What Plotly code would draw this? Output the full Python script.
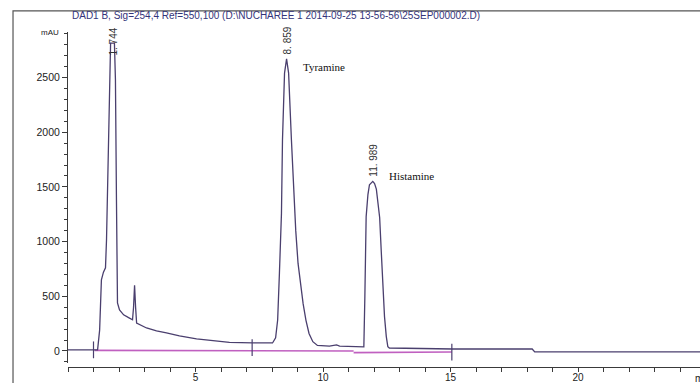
import plotly.graph_objects as go

# Chromatogram trace (time in min, absorbance in mAU)
time_min = [0, 1.04, 1.16, 1.24, 1.31, 1.39, 1.47, 1.51, 1.55, 1.59, 1.63, 1.67, 1.82, 1.86,
            1.90, 1.92, 1.94, 2.02, 2.18, 2.41, 2.53, 2.57, 2.61, 2.65, 2.69, 3.08, 3.47,
            3.86, 4.37, 5.04, 5.67, 6.33, 7.24, 8.02, 8.14, 8.22, 8.29, 8.37, 8.41, 8.49,
            8.57, 8.65, 8.76, 8.84, 8.93, 9.02, 9.12, 9.22, 9.33, 9.45, 9.6, 9.78, 10.25,
            10.53, 10.65, 11.24, 11.6, 11.64, 11.69, 11.76, 11.82, 11.95, 12.02, 12.09,
            12.15, 12.22, 12.28, 12.35, 12.41, 12.48, 12.54, 12.6, 13.27, 15.08, 18.2,
            18.3, 24.8]
signal_mau = [10, 10, 10, 190, 650, 720, 760, 1015, 1470, 2110, 2480, 2815, 2815, 2480,
              1380, 560, 440, 375, 330, 300, 285, 400, 600, 400, 255, 210, 183,
              165, 137, 110, 91, 78, 73, 73, 120, 283, 713, 1260, 1930, 2540,
              2670, 2540, 1930, 1520, 1100, 800, 600, 430, 280, 160, 85, 50, 45,
              55, 45, 37, 37, 500, 1228, 1430, 1520, 1550, 1530, 1480, 1370,
              1220, 923, 558, 314, 131, 39, 27, 23, 18, 18, -9, -9]

# Integration baseline segments
base_time = [1.04, 11.2, None, 11.2, 15.05]
base_mau = [5, 0, None, -15, -10]

# Baseline event marks
event_time = [1.0, 7.22, 15.05]
event_mau = [10, 30, -10]

# Peak retention-time labels and compound names
peak_time = [1.744, 8.57, 11.95]
peak_mau = [2815, 2670, 1550]
peak_text = ["1. 744", "8. 859", "11. 989"]
compound_names = ["Tyramine", "Histamine"]
compound_time = [8.57, 11.95]
compound_mau = [2670, 1550]

y_ticks = [0, 500, 1000, 1500, 2000, 2500]
x_ticks = [5, 10, 15, 20]

TRACE = "#4a3f6e"
BASE = "#c060c0"
AX = "#3a3a3a"

fig = go.Figure()
fig.add_trace(go.Scatter(x=base_time, y=base_mau, mode="lines",
                         line=dict(color=BASE, width=1.6), connectgaps=False,
                         hoverinfo="skip", showlegend=False))
fig.add_trace(go.Scatter(x=time_min, y=signal_mau, mode="lines",
                         line=dict(color=TRACE, width=1.3), showlegend=False))
fig.add_trace(go.Scatter(x=event_time, y=event_mau, mode="markers",
                         marker=dict(symbol="line-ns", size=12,
                                     line=dict(color=TRACE, width=1.2)),
                         showlegend=False))

annotations = []
shifts = [-14, 2, 3]
for t, v, s, sh in zip(peak_time, peak_mau, peak_text, shifts):
    annotations.append(dict(x=t, y=v, xref="x", yref="y", text=s, showarrow=False,
                            textangle=-90, yanchor="bottom", xanchor="center",
                            yshift=sh, xshift=1,
                            font=dict(family="Liberation Sans", size=10, color="#333")))
name_shift = [(14, -8), (14, 5)]
for t, v, s, (xs, ys) in zip(compound_time, compound_mau, compound_names, name_shift):
    annotations.append(dict(x=t, y=v, xref="x", yref="y", text=s, showarrow=False,
                            xanchor="left", yanchor="middle", xshift=xs, yshift=ys,
                            font=dict(family="Liberation Serif", size=11, color="#111")))

annotations += [
    dict(xref="paper", yref="paper", x=0, y=1, xanchor="left", yanchor="middle",
         xshift=2, yshift=17, showarrow=False,
         text="DAD1 B, Sig=254,4 Ref=550,100 (D:\\NUCHAREE 1 2014-09-25 13-56-56\\25SEP000002.D)",
         font=dict(family="Liberation Sans", size=10, color="#34347a")),
    dict(xref="paper", yref="paper", x=0, y=1, xanchor="right", yanchor="middle",
         xshift=-7, yshift=0, showarrow=False, text="mAU",
         font=dict(family="Liberation Sans", size=8, color="#222")),
    dict(xref="paper", yref="paper", x=1, y=0, xanchor="left", yanchor="top",
         xshift=-7, yshift=-4, showarrow=False, text="min",
         font=dict(family="Liberation Sans", size=10, color="#222")),
]

fig.update_layout(
    width=700, height=383,
    margin=dict(l=68, r=0, t=32, b=16),
    paper_bgcolor="white", plot_bgcolor="white",
    showlegend=False,
    annotations=annotations,
    shapes=[dict(type="rect", xref="paper", yref="paper",
                 x0=-0.087, x1=1.05, y0=-0.2, y1=1.063,
                 line=dict(color="#555", width=1.2))],
    xaxis=dict(range=[0, 24.78], tickvals=x_ticks, ticks="outside", ticklen=4,
               tickcolor=AX, showline=True, linecolor=AX, linewidth=1,
               showgrid=False, zeroline=False, anchor="free", position=0,
               automargin=False, ticklabelstandoff=-3,
               minor=dict(dtick=1, ticks="outside", ticklen=4, tickcolor=AX, showgrid=False),
               tickfont=dict(family="Liberation Sans", size=10, color="#222")),
    yaxis=dict(range=[-110, 2916], domain=[0.012, 1], tickvals=y_ticks,
               ticks="outside", ticklen=5, tickcolor=AX, automargin=False,
               showline=True, linecolor=AX, linewidth=1, showgrid=False, zeroline=False,
               minor=dict(dtick=100, ticks="outside", ticklen=3, tickcolor=AX, showgrid=False),
               tickfont=dict(family="Liberation Sans", size=10.5, color="#222")),
)

fig.write_html("out.html")
